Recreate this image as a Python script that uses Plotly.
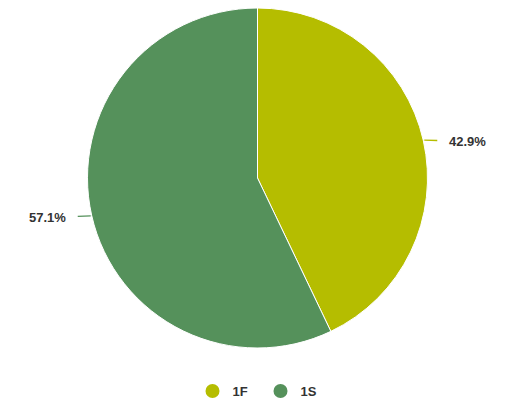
import math
import plotly.graph_objects as go

categories = ["1F", "1S"]
values = [42.9, 57.1]
colors = ["#b5bd00", "#55915b"]

W, H = 511, 404
cx, cy, R = 249.5, 170.0, 170.0  # pie center and radius in pixels (figure coords)

fig = go.Figure()
fig.add_trace(go.Pie(
    labels=categories, values=values, sort=False, direction="clockwise",
    rotation=0, marker=dict(colors=colors, line=dict(color="white", width=1)),
    textinfo="none", hoverinfo="label+percent", showlegend=False,
    domain=dict(x=[(cx - R) / W, (cx + R) / W],
                y=[max(0.0, 1 - (cy + R) / H), min(1.0, 1 - (cy - R) / H)]),
))

total = sum(values)
start = 0.0
for cat, v, col in zip(categories, values, colors):
    mid = start + v / total * 360 / 2
    start += v / total * 360
    a = math.radians(mid)
    dx, dy = math.sin(a), -math.cos(a)
    px, py = cx + (R + 1) * dx, cy + (R + 1) * dy
    sign = 1 if dx >= 0 else -1
    fig.add_annotation(
        x=px / W, y=1 - py / H, xref="paper", yref="paper",
        text=f"<b>{v:.1f}%</b>", showarrow=True, arrowhead=0, arrowwidth=1.3,
        arrowcolor=col, axref="pixel", ayref="pixel",
        ax=sign * 43, ay=1 if sign > 0 else 2, borderpad=1, startstandoff=10,
        font=dict(family="Liberation Sans, Arial, sans-serif", size=13, color="#333333"),
    )

for cat, col in zip(categories, colors):
    fig.add_trace(go.Scatter(
        x=[None], y=[None], mode="markers", name=cat,
        marker=dict(color=col, size=14, symbol="circle"),
    ))

fig.update_layout(
    width=W, height=H, margin=dict(l=0, r=0, t=0, b=0),
    paper_bgcolor="white", plot_bgcolor="white",
    xaxis=dict(visible=False), yaxis=dict(visible=False),
    legend=dict(orientation="h", x=0.5 - 3 / W, xanchor="center", y=0.052, yanchor="middle",
                entrywidth=23,
                font=dict(family="Liberation Sans, Arial, sans-serif", size=13, color="#333333", weight="bold"),
                itemclick=False, itemdoubleclick=False),
    showlegend=True,
)

fig.write_html("out.html")
